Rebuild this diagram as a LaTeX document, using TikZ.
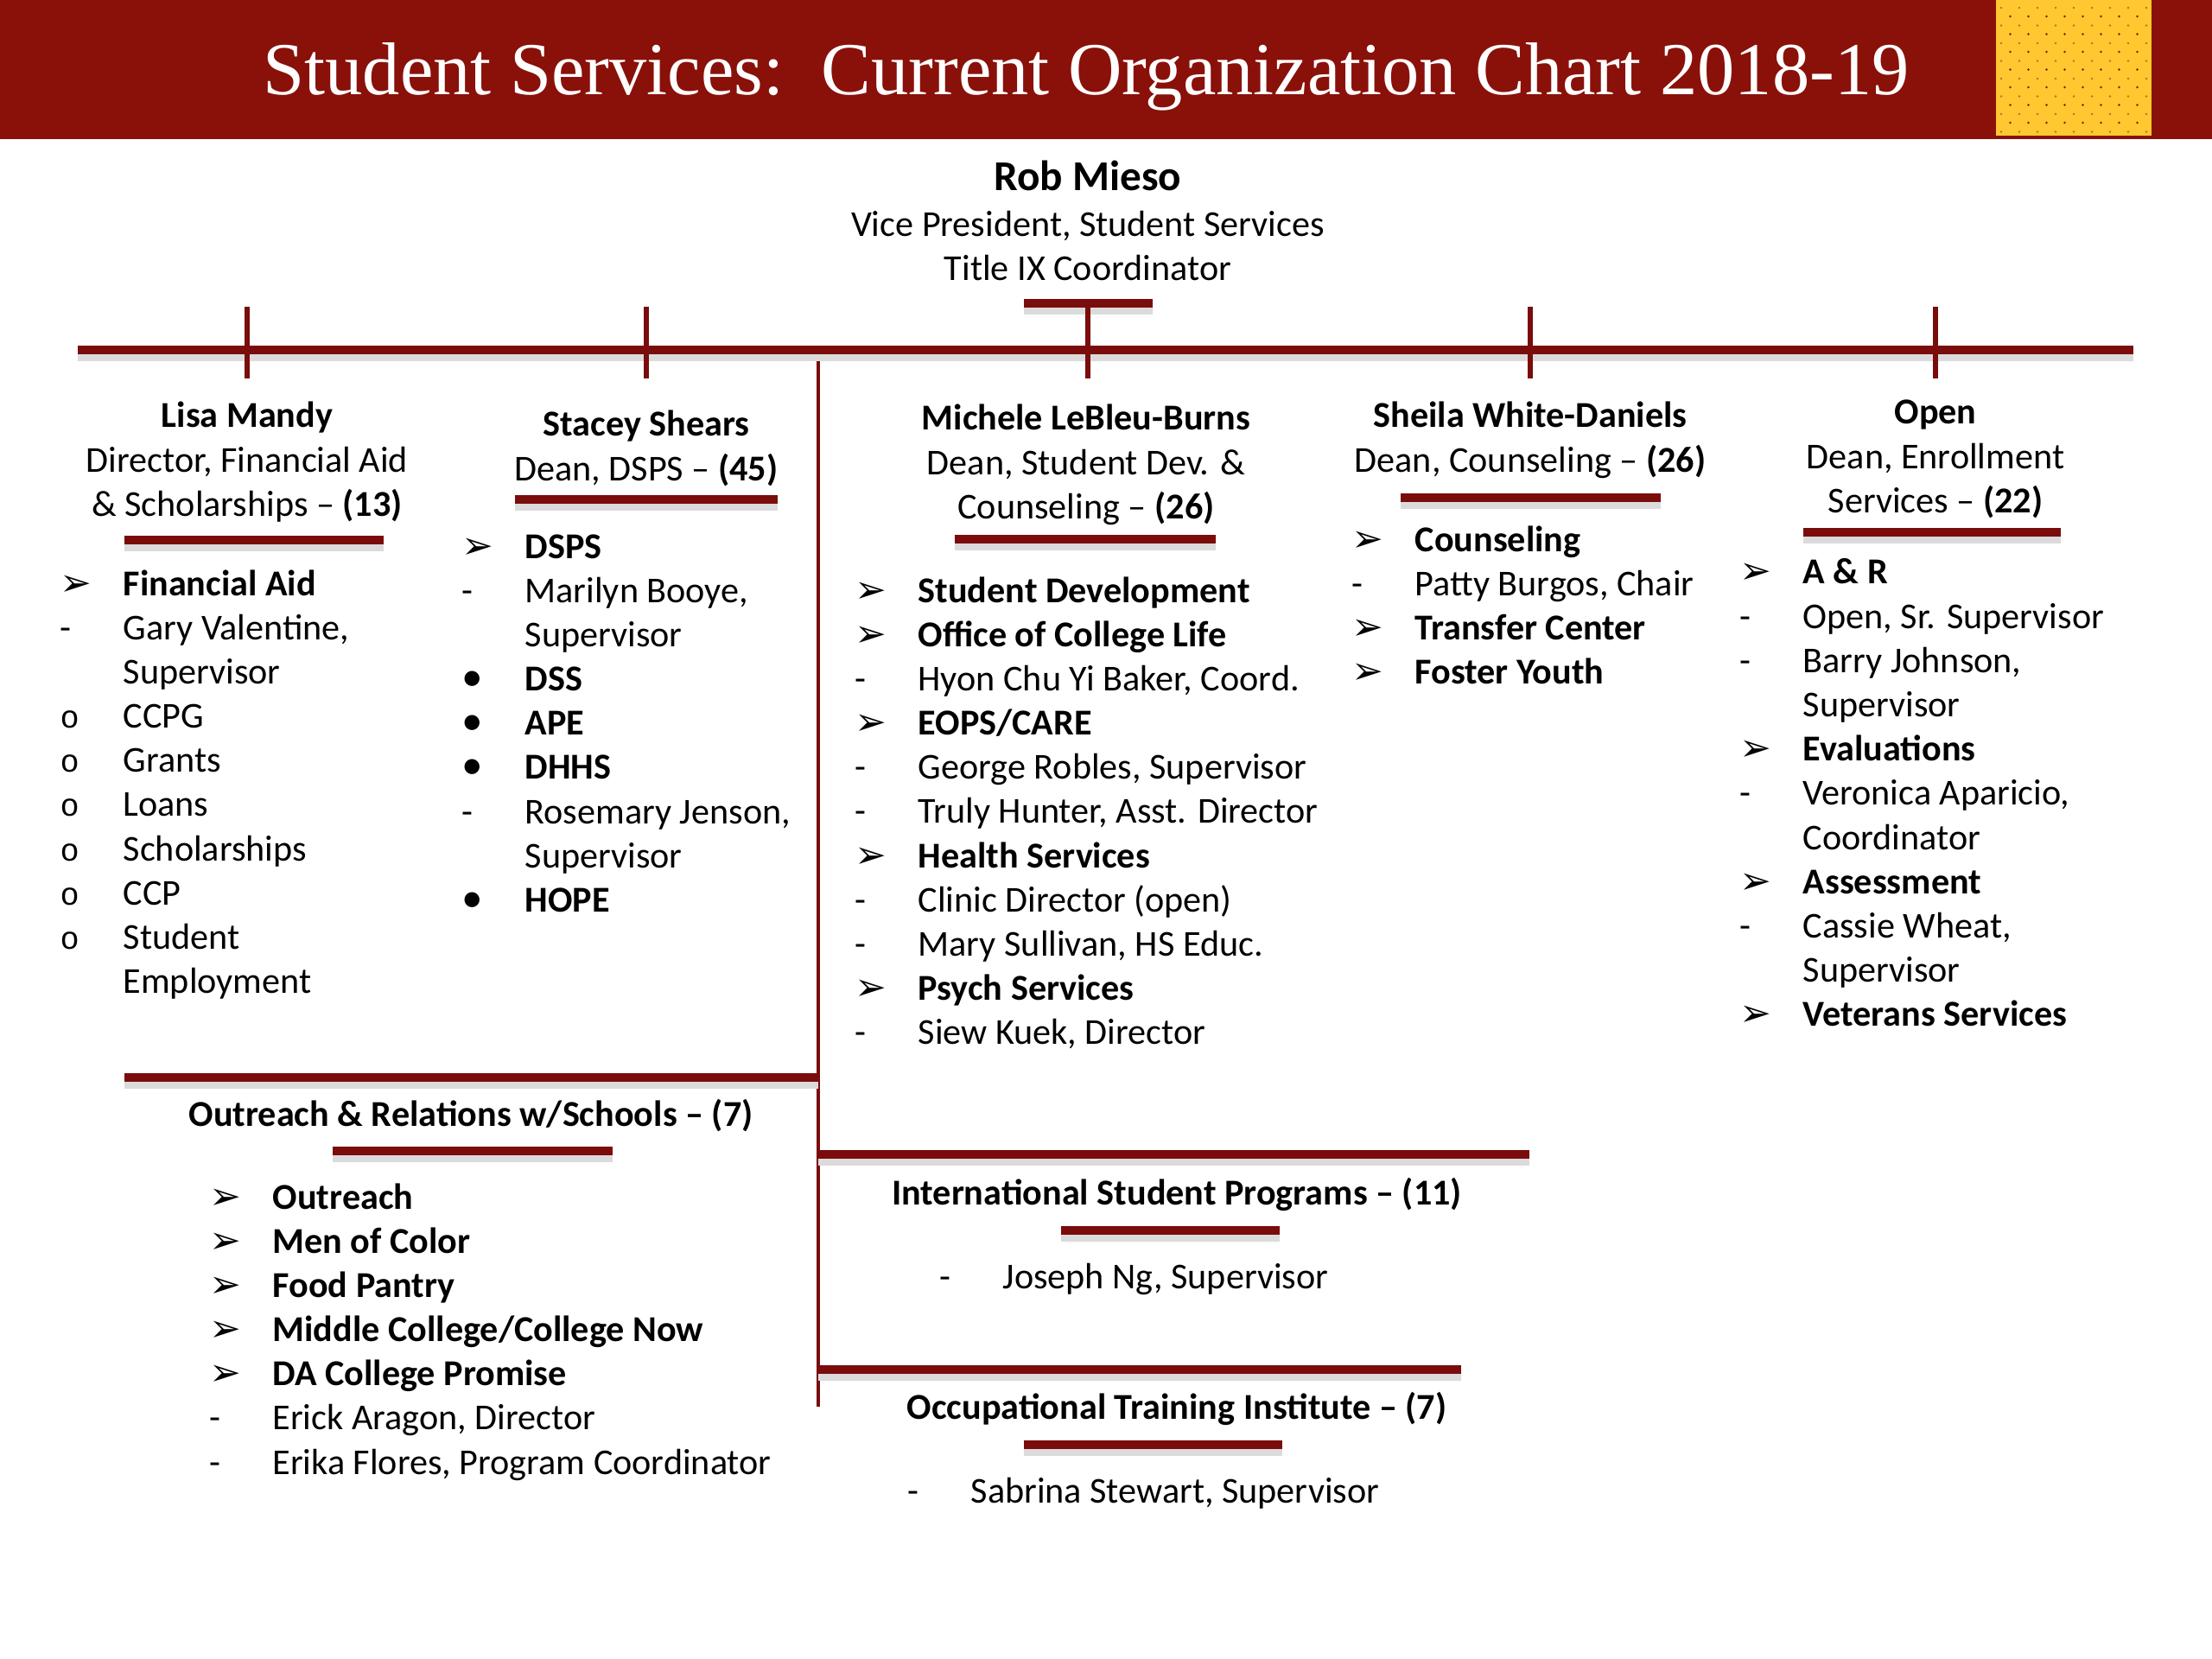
\documentclass[tikz,border=0pt]{standalone}
\usepackage{fontspec}
\setmainfont{Carlito}
\newfontfamily\titlefont{Liberation Serif}
\newfontfamily\symfont{DejaVu Sans}
\newfontfamily\bulletmono{Liberation Mono}

\definecolor{bandred}{RGB}{137,17,10}
\definecolor{linered}{RGB}{122,12,12}
\definecolor{padyellow}{RGB}{255,200,48}
\definecolor{dotolive}{RGB}{170,120,40}
\definecolor{dotred}{RGB}{140,20,15}

% bullet marks
\newcommand\arr{{\symfont\fontsize{12.5}{12}\selectfont ➢}}
\newcommand\opn{{\bulletmono\fontsize{10.5}{12}\selectfont o}}
\newcommand\blt{{\fontsize{14}{14}\selectfont •}}
% blocks of lines
\newcommand\blist[1]{\begin{tabular}[t]{@{}p{0.73cm}@{}l@{}}#1\end{tabular}}
\newcommand\hblock[1]{\begin{tabular}[t]{@{}c@{}}#1\end{tabular}}

\tikzset{
  head/.style={anchor=base},
  list/.style={anchor=base west},
  bar/.style={draw=linered, line width=2.6pt,
    preaction={draw=black!14, line width=3.6pt, transform canvas={yshift=-1.8pt}}},
  tick/.style={draw=linered, line width=1.6pt},
  spine/.style={draw=linered, line width=0.9pt},
}

\begin{document}
\begin{tikzpicture}[every node/.style={inner sep=0pt, font=\fontsize{12}{14.56}\selectfont}]
  \useasboundingbox (0,0) rectangle (25.6,-19.2);
  % title band
  \fill[bandred] (0,0) rectangle (25.6,-1.61);
  \fill[padyellow] (23.10,0) rectangle (24.90,-1.57);
  \foreach \r in {0,...,7}
    \foreach \c in {0,...,8}
      \fill[dotolive] (23.16+0.21*\c, -0.09-0.205*\r) circle (0.014);
  \foreach \r in {0,...,6}
    \foreach \c in {0,...,7}
      \fill[dotred] (23.265+0.21*\c, -0.19-0.205*\r) circle (0.014);
  \node[white, font=\titlefont\fontsize{24.6}{28}\selectfont] (title) at (12.57,-0.89) {Student Services:\ \ Current Organization Chart 2018-19};

  % heads
  \node[head] (rob) at (12.59,-2.21) {\hblock{{\fontsize{14}{16}\selectfont\textbf{Rob Mieso}}\\[0.3pt] Vice President, Student Services\\ Title IX Coordinator}};
  \node[head] (lisa) at (2.86,-4.95) {\hblock{\textbf{Lisa Mandy}\\ Director, Financial Aid\\ \& Scholarships – \textbf{(13)}}};
  \node[head] (stacey) at (7.48,-5.05) {\hblock{\textbf{Stacey Shears}\\ Dean, DSPS – \textbf{(45)}}};
  \node[head] (michele) at (12.57,-4.98) {\hblock{\textbf{Michele LeBleu-Burns}\\ Dean, Student Dev. \&\\ Counseling – \textbf{(26)}}};
  \node[head] (sheila) at (17.71,-4.95) {\hblock{\textbf{Sheila White-Daniels}\\ Dean, Counseling – \textbf{(26)}}};
  \node[head] (open) at (22.40,-4.91) {\hblock{\textbf{Open}\\ Dean, Enrollment\\ Services – \textbf{(22)}}};
  \node[head, font=\fontsize{12}{14.56}\selectfont\bfseries] (outreach) at (5.45,-13.03) {Outreach \& Relations w/Schools – (7)};
  \node[head, font=\fontsize{12}{14.56}\selectfont\bfseries] (intl) at (13.62,-13.94) {International Student Programs – (11)};
  \node[head, font=\fontsize{12}{14.56}\selectfont\bfseries] (oti) at (13.62,-16.42) {Occupational Training Institute – (7)};

  % lists
  \node[list] (lisalist) at (0.69,-6.89) {\blist{\arr & \textbf{Financial Aid}\\ - & Gary Valentine,\\ & Supervisor\\ \opn & CCPG\\ \opn & Grants\\ \opn & Loans\\ \opn & Scholarships\\ \opn & CCP\\ \opn & Student\\ & Employment}};
  \node[list] (staceylist) at (5.34,-6.46) {\blist{\arr & \textbf{DSPS}\\ - & Marilyn Booye,\\ & Supervisor\\ \blt & \textbf{DSS}\\ \blt & \textbf{APE}\\ \blt & \textbf{DHHS}\\ - & Rosemary Jenson,\\ & Supervisor\\ \blt & \textbf{HOPE}}};
  \node[list] (michelelist) at (9.89,-6.97) {\blist{\arr & \textbf{Student Development}\\ \arr & \textbf{Office of College Life}\\ - & Hyon Chu Yi Baker, Coord.\\ \arr & \textbf{EOPS/CARE}\\ - & George Robles, Supervisor\\ - & Truly Hunter, Asst. Director\\ \arr & \textbf{Health Services}\\ - & Clinic Director (open)\\ - & Mary Sullivan, HS Educ.\\ \arr & \textbf{Psych Services}\\ - & Siew Kuek, Director}};
  \node[list] (sheilalist) at (15.64,-6.38) {\blist{\arr & \textbf{Counseling}\\ - & Patty Burgos, Chair\\ \arr & \textbf{Transfer Center}\\ \arr & \textbf{Foster Youth}}};
  \node[list] (openlist) at (20.13,-6.76) {\blist{\arr & \textbf{A \& R}\\ - & Open, Sr. Supervisor\\ - & Barry Johnson,\\ & Supervisor\\ \arr & \textbf{Evaluations}\\ - & Veronica Aparicio,\\ & Coordinator\\ \arr & \textbf{Assessment}\\ - & Cassie Wheat,\\ & Supervisor\\ \arr & \textbf{Veterans Services}}};
  \node[list] (outreachlist) at (2.42,-13.99) {\blist{\arr & \textbf{Outreach}\\ \arr & \textbf{Men of Color}\\ \arr & \textbf{Food Pantry}\\ \arr & \textbf{Middle College/College Now}\\ \arr & \textbf{DA College Promise}\\ - & Erick Aragon, Director\\ - & Erika Flores, Program Coordinator}};
  \node[list] (intllist) at (10.87,-14.91) {\blist{- & Joseph Ng, Supervisor}};
  \node[list] (otilist) at (10.50,-17.39) {\blist{- & Sabrina Stewart, Supervisor}};

  % main connectors
  \coordinate (mainL) at (0.90,-4.05);
  \coordinate (mainR) at (24.69,-4.05);
  \coordinate (robbarL) at (11.85,-3.51);
  \coordinate (robbarR) at (13.34,-3.51);
  \coordinate (tickTop) at (0,-3.55);
  \coordinate (tickBot) at (0,-4.38);
  \coordinate (spineTop) at (9.47,-4.05);
  \coordinate (spineBot) at (9.47,-16.28);
  \draw[spine] (spineTop) -- (spineBot);
  \draw[bar] (mainL) -- (mainR);
  \draw[bar] (robbarL) -- (robbarR);
  \draw[tick] (rob |- robbarL) -- (rob |- tickBot);
  \foreach \n in {lisa, stacey, sheila, open}
    \draw[tick] (\n |- tickTop) -- (\n |- tickBot);

  % branch rules off the spine
  \draw[bar] (1.44,-12.47) -- (spineBot |- 0,-12.47);
  \draw[bar] (spineBot |- 0,-13.36) -- (17.70,-13.36);
  \draw[bar] (spineBot |- 0,-15.85) -- (16.91,-15.85);

  % underlines
  \draw[bar] (1.44,-6.25) -- (4.44,-6.25);
  \draw[bar] (5.96,-5.78) -- (9.00,-5.78);
  \draw[bar] (11.05,-6.24) -- (14.07,-6.24);
  \draw[bar] (16.21,-5.76) -- (19.22,-5.76);
  \draw[bar] (20.87,-6.16) -- (23.85,-6.16);
  \draw[bar] (3.85,-13.32) -- (7.09,-13.32);
  \draw[bar] (12.28,-14.24) -- (14.81,-14.24);
  \draw[bar] (11.85,-16.72) -- (14.84,-16.72);
\end{tikzpicture}
\end{document}
